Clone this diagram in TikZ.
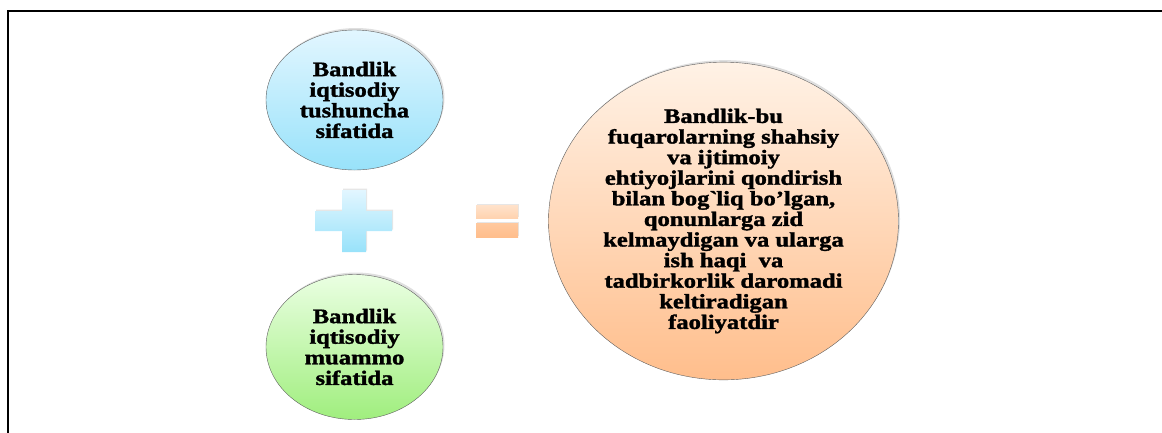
\documentclass[tikz,border=0pt]{standalone}
\usepackage{fontspec}
\newfontfamily\uzfont[FakeStretch=1.2, BoldFeatures={FakeBold=1.6}]{Liberation Serif}
\usepackage{tikz}
\usetikzlibrary{shapes.geometric,shadows}
\definecolor{ubluetop}{RGB}{226,246,255}
\definecolor{ublue}{RGB}{152,226,250}
\definecolor{ugreentop}{RGB}{234,255,226}
\definecolor{ugreen}{RGB}{160,238,126}
\definecolor{uorangetop}{RGB}{255,242,230}
\definecolor{uorange}{RGB}{255,190,140}
\definecolor{uedge}{RGB}{95,95,95}
\tikzstyle{bubble} = [ellipse, draw=uedge, thin, align=center, inner sep=0pt, font=\uzfont\bfseries\fontsize{20.5}{20.6}\selectfont, drop shadow={opacity=0.25, shadow xshift=1.5pt, shadow yshift=2pt}]
\tikzstyle{sign} = [drop shadow={opacity=0.2, shadow xshift=1pt, shadow yshift=1.5pt}]

\begin{document}
\begin{tikzpicture}[x=1pt, y=-1pt]
\useasboundingbox (0,0) rectangle (1162,432);
% frame
\draw[line width=2pt] (8,440) -- (8,11) -- (1170,11);

% two notions of employment
\node[bubble, minimum width=177pt, minimum height=140pt, top color=ubluetop, bottom color=ublue] (concept) at (354.5,100) {Bandlik\\iqtisodiy\\tushuncha\\sifatida};
\node[bubble, minimum width=177pt, minimum height=145pt, top color=ugreentop, bottom color=ugreen] (problem) at (354.5,347) {Bandlik\\iqtisodiy\\muammo\\sifatida};

% definition
\node[bubble, minimum width=350pt, minimum height=288pt, top color=uorangetop, bottom color=uorange] (definition) at (723.5,221) {Bandlik-bu\\fuqarolarning shahsiy\\va ijtimoiy\\ehtiyojlarini qondirish\\bilan bog\textasciigrave liq bo’lgan,\\qonunlarga zid\\kelmaydigan va ularga\\ish haqi\ \ va\\tadbirkorlik daromadi\\keltiradigan\\faoliyatdir};

% plus sign
\path[sign, top color=ubluetop, bottom color=ublue] (315,211) -- (342,211) -- (342,190) -- (366,190) -- (366,211) -- (392,211) -- (392,231) -- (366,231) -- (366,252) -- (342,252) -- (342,231) -- (315,231) -- cycle;

% equals sign
\path[sign, top color=uorangetop!70!uorange, bottom color=uorangetop!40!uorange] (476,205) rectangle (518,218);
\path[sign, top color=uorangetop!20!uorange, bottom color=uorange] (476,223) rectangle (518,237);
\end{tikzpicture}
\end{document}
